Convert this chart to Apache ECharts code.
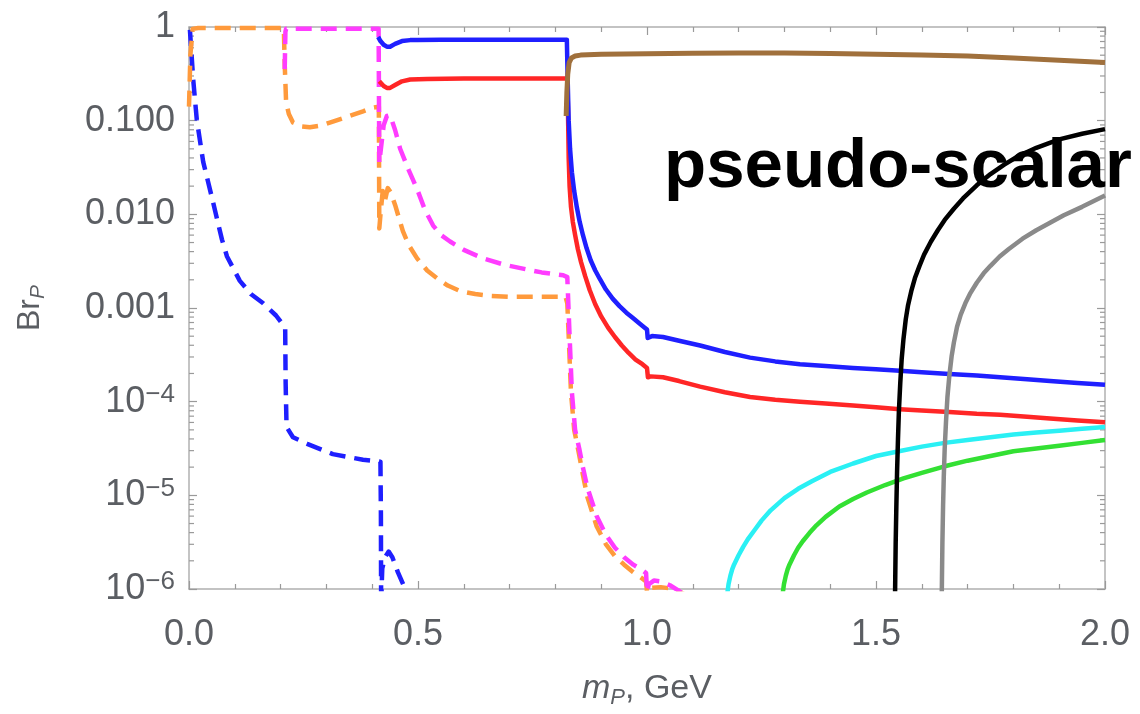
<!DOCTYPE html>
<html><head><meta charset="utf-8">
<script src="https://cdn.jsdelivr.net/npm/echarts@6/dist/echarts.min.js"></script>
<style>html,body{margin:0;padding:0;background:#fff}#c{width:1140px;height:714px}</style>
</head><body><div id="c"></div>
<script>
// ---- Data (x = m_P in GeV, values given as log10 of Br_P) ----
const blueDashX   = [0.002,0.009,0.017,0.031,0.052,0.072,0.083,0.111,0.135,0.162,0.190,0.210,0.211,0.213,0.227,0.258,0.314,0.380,0.418,0.419,0.4195,0.4205,0.422,0.428,0.436,0.444,0.456,0.472,0.485];
const blueDashLog = [-0.03,-0.55,-0.99,-1.44,-1.86,-2.27,-2.45,-2.71,-2.85,-2.95,-3.08,-3.21,-3.8,-4.27,-4.38,-4.45,-4.56,-4.62,-4.64,-5.2,-6.2,-6.0,-5.78,-5.66,-5.6,-5.66,-5.82,-6.0,-6.2];

const orangeX   = [0.0,0.003,0.008,0.02,0.1,0.2,0.207,0.209,0.212,0.218,0.227,0.245,0.264,0.29,0.314,0.35,0.38,0.402,0.4145,0.4155,0.419,0.423,0.428,0.434,0.44,0.45,0.467,0.48,0.498,0.52,0.541,0.565,0.592,0.625,0.657,0.7,0.77,0.822,0.826,0.829,0.834,0.841,0.85,0.86,0.87,0.89,0.91,0.93,0.95,0.97,0.99,0.998,1.0,1.003,1.03,1.06,1.08];
const orangeLog = [-0.85,-0.3,-0.02,-0.01,-0.01,-0.01,-0.01,-0.4,-0.8,-0.93,-1.02,-1.06,-1.07,-1.05,-1.01,-0.95,-0.9,-0.86,-0.85,-2.15,-1.95,-1.75,-1.85,-1.72,-1.76,-1.9,-2.18,-2.33,-2.47,-2.6,-2.68,-2.76,-2.82,-2.85,-2.87,-2.88,-2.88,-2.88,-2.95,-3.3,-3.9,-4.3,-4.52,-4.78,-5.02,-5.33,-5.52,-5.65,-5.74,-5.82,-5.89,-5.92,-6.03,-5.99,-5.98,-6.0,-6.05];

const magentaX   = [0.209,0.2105,0.212,0.25,0.3,0.35,0.4,0.414,0.4155,0.419,0.425,0.432,0.439,0.45,0.461,0.48,0.498,0.515,0.533,0.55,0.57,0.6,0.642,0.69,0.729,0.77,0.817,0.826,0.828,0.831,0.836,0.843,0.852,0.86,0.87,0.89,0.91,0.93,0.95,0.97,0.99,0.998,1.0,1.004,1.015,1.03,1.05,1.07,1.09];
const magentaLog = [-0.45,-0.05,-0.02,-0.02,-0.02,-0.02,-0.02,-0.02,-1.45,-1.3,-1.05,-0.95,-0.94,-1.1,-1.3,-1.53,-1.73,-1.95,-2.12,-2.22,-2.29,-2.38,-2.47,-2.54,-2.58,-2.62,-2.65,-2.67,-2.68,-3.3,-3.9,-4.3,-4.5,-4.7,-4.92,-5.22,-5.42,-5.56,-5.66,-5.74,-5.8,-5.83,-6.03,-5.95,-5.91,-5.92,-5.96,-6.02,-6.1];

const redX   = [0.4155,0.418,0.425,0.432,0.439,0.45,0.465,0.483,0.52,0.6,0.7,0.8,0.826,0.8275,0.829,0.831,0.834,0.838,0.843,0.849,0.856,0.865,0.875,0.887,0.9,0.915,0.93,0.945,0.96,0.975,0.99,1.0,1.002,1.008,1.035,1.07,1.116,1.17,1.225,1.28,1.334,1.39,1.45,1.5,1.552,1.6,1.66,1.72,1.771,1.83,1.88,1.94,2.0];
const redLog = [-0.58,-0.6,-0.63,-0.65,-0.65,-0.62,-0.58,-0.56,-0.555,-0.55,-0.55,-0.55,-0.55,-0.9,-1.4,-1.7,-1.92,-2.08,-2.22,-2.37,-2.51,-2.66,-2.81,-2.96,-3.09,-3.21,-3.31,-3.4,-3.48,-3.55,-3.6,-3.64,-3.74,-3.73,-3.74,-3.78,-3.84,-3.9,-3.95,-3.98,-4.0,-4.02,-4.04,-4.06,-4.08,-4.095,-4.11,-4.13,-4.14,-4.16,-4.18,-4.2,-4.22];

const blueX   = [0.413,0.418,0.425,0.432,0.439,0.45,0.465,0.483,0.498,0.55,0.65,0.75,0.825,0.827,0.829,0.832,0.836,0.841,0.847,0.853,0.86,0.868,0.877,0.887,0.897,0.91,0.925,0.94,0.955,0.97,0.985,0.995,1.0,1.0015,1.011,1.035,1.07,1.116,1.17,1.225,1.28,1.334,1.39,1.45,1.5,1.552,1.6,1.66,1.72,1.771,1.83,1.88,1.94,2.0];
const blueLog = [-0.106,-0.15,-0.19,-0.21,-0.21,-0.18,-0.15,-0.14,-0.138,-0.135,-0.135,-0.135,-0.135,-0.6,-1.0,-1.3,-1.55,-1.75,-1.93,-2.08,-2.22,-2.36,-2.49,-2.6,-2.69,-2.8,-2.9,-2.98,-3.05,-3.11,-3.17,-3.21,-3.23,-3.32,-3.30,-3.31,-3.35,-3.40,-3.47,-3.53,-3.57,-3.60,-3.62,-3.64,-3.655,-3.67,-3.685,-3.705,-3.72,-3.74,-3.76,-3.78,-3.8,-3.82];

const brownX   = [0.8235,0.825,0.827,0.83,0.835,0.843,0.855,0.9,1.0,1.1,1.2,1.3,1.4,1.5,1.6,1.7,1.8,1.9,2.0];
const brownLog = [-0.95,-0.7,-0.5,-0.38,-0.33,-0.31,-0.3,-0.29,-0.285,-0.28,-0.278,-0.278,-0.282,-0.29,-0.298,-0.31,-0.33,-0.355,-0.38];

const cyanX   = [1.172,1.175,1.178,1.182,1.186,1.19,1.195,1.2,1.21,1.22,1.235,1.25,1.27,1.3,1.33,1.36,1.4,1.45,1.5,1.55,1.6,1.65,1.7,1.75,1.8,1.85,1.9,1.95,2.0];
const cyanLog = [-6.3,-6.06,-5.95,-5.86,-5.79,-5.74,-5.69,-5.64,-5.55,-5.47,-5.37,-5.27,-5.16,-5.03,-4.93,-4.85,-4.75,-4.66,-4.58,-4.53,-4.48,-4.44,-4.41,-4.38,-4.35,-4.33,-4.31,-4.29,-4.27];

const greenX   = [1.293,1.296,1.299,1.303,1.307,1.311,1.316,1.321,1.33,1.34,1.355,1.37,1.39,1.42,1.45,1.48,1.52,1.56,1.6,1.65,1.7,1.75,1.8,1.85,1.9,1.95,2.0];
const greenLog = [-6.3,-6.06,-5.95,-5.86,-5.79,-5.74,-5.69,-5.64,-5.56,-5.49,-5.4,-5.32,-5.23,-5.12,-5.04,-4.97,-4.89,-4.82,-4.76,-4.69,-4.63,-4.58,-4.53,-4.5,-4.47,-4.44,-4.41];

const blackX   = [1.541,1.542,1.543,1.5445,1.546,1.548,1.55,1.553,1.556,1.56,1.565,1.57,1.577,1.585,1.595,1.605,1.62,1.635,1.65,1.67,1.69,1.72,1.75,1.78,1.81,1.85,1.9,1.95,2.0];
const blackLog = [-6.3,-5.9,-5.5,-5.1,-4.75,-4.4,-4.1,-3.8,-3.55,-3.33,-3.12,-2.97,-2.82,-2.68,-2.55,-2.43,-2.29,-2.17,-2.06,-1.94,-1.83,-1.69,-1.57,-1.47,-1.38,-1.29,-1.2,-1.14,-1.09];

const grayX   = [1.643,1.644,1.645,1.6465,1.648,1.65,1.653,1.656,1.66,1.665,1.67,1.677,1.685,1.695,1.705,1.72,1.735,1.75,1.77,1.79,1.82,1.85,1.88,1.91,1.95,2.0];
const grayLog = [-6.3,-5.9,-5.5,-5.1,-4.8,-4.5,-4.2,-3.95,-3.73,-3.52,-3.37,-3.2,-3.07,-2.95,-2.85,-2.73,-2.63,-2.55,-2.45,-2.37,-2.26,-2.17,-2.09,-2.01,-1.92,-1.8];

// ---- Axis ticks / labels ----
const xTickLabels = ['0.0','0.5','1.0','1.5','2.0'];
const yTickExps   = [0,-1,-2,-3,-4,-5,-6];
const yTickLabels = ['1','0.100','0.010','0.001','{b|10}{s|\u22124}','{b|10}{s|\u22125}','{b|10}{s|\u22126}'];
const yMinorTicks = [2,3,4,5,6,7,8,9].flatMap(m => [-6,-5,-4,-3,-2,-1].map(e => m * Math.pow(10, e)));
const annotation = 'pseudo-scalar';

const toPts = (xs, logs) => xs.map((x, i) => [x, Math.pow(10, logs[i])]);
const FONT = '"Liberation Sans", Arial, Helvetica, sans-serif';
const LABEL = '#5b5e63';
const FRAME = '#b0b0b0';
const TICK = '#9a9a9a';

function line(name, xs, logs, color, dashed, width) {
  return {
    name, type: 'line', data: toPts(xs, logs), showSymbol: false, symbol: 'none',
    xAxisIndex: 0, yAxisIndex: 0, clip: true, silent: true, smooth: false,
    lineStyle: { color, width: width || 4.5, type: dashed ? [16, 9] : 'solid', cap: 'butt', join: 'round' }
  };
}

const xBase = {
  type: 'value', min: 0, max: 2, interval: 0.5,
  axisLine: { show: true, onZero: false, lineStyle: { color: FRAME, width: 1.5 } },
  axisTick: { show: true, inside: true, length: 8, lineStyle: { color: TICK, width: 1.2 } },
  minorTick: { show: true, splitNumber: 5, length: 5, lineStyle: { color: TICK, width: 1.2 } },
  splitLine: { show: false }, minorSplitLine: { show: false }
};
const yBase = {
  type: 'log', logBase: 10, min: 1e-6, max: 1,
  axisLine: { show: true, onZero: false, lineStyle: { color: FRAME, width: 1.5 } },
  axisTick: { show: true, inside: true, length: 8, lineStyle: { color: TICK, width: 1.2 } },
  splitLine: { show: false }
};

const chart = echarts.init(document.getElementById('c'), null, { renderer: 'canvas' });
chart.setOption({
  animation: false,
  backgroundColor: '#fff',
  grid: { left: 189, right: 35, top: 27, bottom: 121, containLabel: false },
  xAxis: [
    Object.assign({}, xBase, {
      position: 'bottom',
      axisLabel: { fontSize: 36, color: LABEL, fontFamily: FONT, margin: 28,
        formatter: v => xTickLabels[Math.round(v / 0.5)] },
      name: '{i|m}{p|P}{a|, GeV}', nameLocation: 'middle', nameGap: 80,
      nameTextStyle: { color: LABEL, fontFamily: FONT,
        rich: { i: { fontSize: 34, fontStyle: 'italic', color: LABEL, lineHeight: 40, fontFamily: FONT },
                p: { fontSize: 22, fontStyle: 'italic', color: LABEL, lineHeight: 14, verticalAlign: 'bottom', fontFamily: FONT },
                a: { fontSize: 34, color: LABEL, lineHeight: 40, fontFamily: FONT } } }
    }),
    Object.assign({}, xBase, { position: 'top', axisLabel: { show: false } })
  ],
  yAxis: [
    Object.assign({}, yBase, {
      position: 'left',
      axisLabel: { fontSize: 36, color: LABEL, fontFamily: FONT, margin: 14,
        formatter: v => { const e = Math.round(Math.log10(v)); const k = yTickExps.indexOf(e); return k >= 0 ? yTickLabels[k] : ''; },
        rich: { b: { fontSize: 36, color: LABEL, fontFamily: FONT, lineHeight: 40 },
                s: { fontSize: 26, color: LABEL, fontFamily: FONT, lineHeight: 22, verticalAlign: 'top' } } },
      name: '{a|Br}{p|P}', nameLocation: 'middle', nameRotate: 90, nameGap: 140,
      nameTextStyle: { color: LABEL, fontFamily: FONT,
        rich: { a: { fontSize: 32, color: LABEL, lineHeight: 38, fontFamily: FONT },
                p: { fontSize: 21, fontStyle: 'italic', color: LABEL, lineHeight: 12, verticalAlign: 'bottom', fontFamily: FONT } } }
    }),
    Object.assign({}, yBase, { position: 'right', axisLabel: { show: false } })
  ],
  series: [
    {
      type: 'custom', name: 'logMinorTicks', silent: true, xAxisIndex: 0, yAxisIndex: 0, z: 1,
      data: yMinorTicks.map(v => [0, v]),
      encode: { x: 0, y: 1 },
      renderItem: (params, api) => {
        const v = api.value(1);
        const pL = api.coord([0, v]);
        const pR = api.coord([2, v]);
        const st = { stroke: TICK, lineWidth: 1.2 };
        return { type: 'group', children: [
          { type: 'line', shape: { x1: pL[0], y1: pL[1], x2: pL[0] + 5, y2: pL[1] }, style: st },
          { type: 'line', shape: { x1: pR[0] - 5, y1: pR[1], x2: pR[0], y2: pR[1] }, style: st }
        ] };
      }
    },
    line('blue dashed', blueDashX, blueDashLog, '#1f1fff', true),
    line('orange dashed', orangeX, orangeLog, '#ff9a3c', true),
    line('magenta dashed', magentaX, magentaLog, '#ff3cff', true),
    line('red', redX, redLog, '#ff2626'),
    line('blue', blueX, blueLog, '#1f1fff'),
    line('brown', brownX, brownLog, '#a0703c', false, 5),
    line('cyan', cyanX, cyanLog, '#2af0f4'),
    line('green', greenX, greenLog, '#33e033'),
    line('black', blackX, blackLog, '#000000'),
    line('gray', grayX, grayLog, '#8a8a8a')
  ],
  graphic: [{
    type: 'text', x: 664, y: 133, z: 100,
    style: { text: annotation, fill: '#000', font: 'bold 69px "Liberation Sans", Arial, sans-serif',
             textAlign: 'left', textVerticalAlign: 'top', align: 'left', verticalAlign: 'top' }
  }]
});
</script>
</body></html>
